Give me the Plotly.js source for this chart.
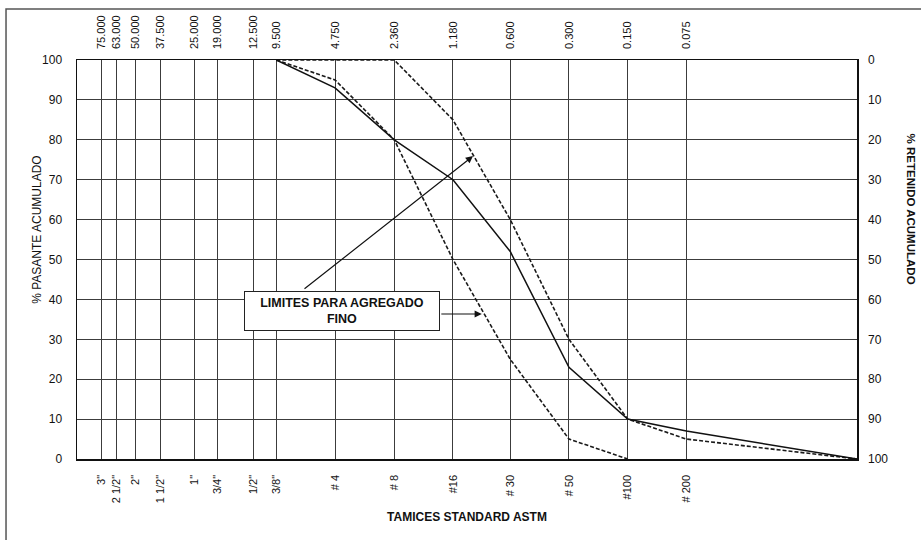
<!DOCTYPE html>
<html>
<head>
<meta charset="utf-8">
<script src="https://cdn.plot.ly/plotly-3.0.1.min.js"></script>
<style>html,body{margin:0;padding:0;background:#fff;}#chart{width:921px;height:540px;}</style>
</head>
<body>
<div id="chart"></div>
<script>
// Sieve openings (mm) and their labels
var sieveMm = [75, 63, 50, 37.5, 25, 19, 12.5, 9.5, 4.75, 2.36, 1.18, 0.6, 0.3, 0.15, 0.075];
var sieveLabelsTop = ["75.000", "63.000", "50.000", "37.500", "25.000", "19.000", "12.500", "9.500",
                      "4.750", "2.360", "1.180", "0.600", "0.300", "0.150", "0.075"];
var sieveLabelsBottom = ["3\"", "2 1/2\"", "2\"", "1 1/2\"", "1\"", "3/4\"", "1/2\"", "3/8\"",
                         "# 4", "# 8", "#16", "# 30", "# 50", "#100", "# 200"];

// Curves (size in mm, % passing)
var curveSizes = [9.5, 4.75, 2.36, 1.18, 0.6, 0.3, 0.15, 0.075, 0.01];
var gradationPassing = [100, 93, 80, 70, 52, 23, 10, 7, 0];
var upperSizes = [9.5, 4.75, 2.36, 1.18, 0.6, 0.3, 0.15, 0.075, 0.01];
var upperLimit = [100, 100, 100, 85, 60, 30, 10, 5, 0];
var lowerSizes = [9.5, 4.75, 2.36, 1.18, 0.6, 0.3, 0.15];
var lowerLimit = [100, 95, 80, 50, 25, 5, 0];

var yTicks = [0, 10, 20, 30, 40, 50, 60, 70, 80, 90, 100];

var FONT = "Liberation Sans, Arial, sans-serif";

// % retained = 100 - % passing (right axis)
var gradationRetained = gradationPassing.map(function (v) { return 100 - v; });

var traces = [
  {x: upperSizes, y: upperLimit, type: "scatter", mode: "lines", name: "Límite superior",
   line: {color: "#1a1a1a", width: 1.6, dash: "4px,2px"}, xaxis: "x", yaxis: "y"},
  {x: lowerSizes, y: lowerLimit, type: "scatter", mode: "lines", name: "Límite inferior",
   line: {color: "#1a1a1a", width: 1.6, dash: "4px,2px"}, xaxis: "x", yaxis: "y"},
  {x: curveSizes, y: gradationPassing, type: "scatter", mode: "lines", name: "Curva granulométrica",
   line: {color: "#111", width: 1.5}, xaxis: "x", yaxis: "y"},
  // same gradation on the mm (top) axis, invisible, so the top axis is drawn
  {x: curveSizes, y: gradationPassing, type: "scatter", mode: "lines", name: "mm",
   line: {color: "rgba(0,0,0,0)", width: 0}, xaxis: "x2", yaxis: "y", hoverinfo: "skip"},
  // same gradation as % retained on the right axis, invisible
  {x: curveSizes, y: gradationRetained, type: "scatter", mode: "lines", name: "% retenido",
   line: {color: "rgba(0,0,0,0)", width: 0}, xaxis: "x", yaxis: "y2", hoverinfo: "skip"}
];

var layout = {
  width: 921, height: 540,
  margin: {l: 77, r: 64, t: 60, b: 81, pad: 0},
  paper_bgcolor: "#fff", plot_bgcolor: "#fff",
  showlegend: false,
  font: {family: FONT, color: "#111", size: 11},
  xaxis: {
    type: "log", range: [2, -2], autorange: false,
    tickmode: "array", tickvals: sieveMm, ticktext: sieveLabelsBottom,
    tickangle: -90, tickfont: {size: 11, family: FONT},
    ticks: "", ticklabelstandoff: 10,
    showgrid: true, gridcolor: "#3c3c3c", gridwidth: 1,
    showline: true, mirror: true, linecolor: "#111", linewidth: 1.5,
    zeroline: false,
    title: {text: "<b>TAMICES STANDARD ASTM</b>", font: {size: 12, family: FONT}, standoff: 10}
  },
  xaxis2: {
    type: "log", range: [2, -2], autorange: false,
    overlaying: "x", side: "top", anchor: "y",
    tickmode: "array", tickvals: sieveMm, ticktext: sieveLabelsTop,
    tickangle: -90, tickfont: {size: 11, family: FONT},
    ticks: "", ticklabelstandoff: 10,
    showgrid: false, zeroline: false, showline: false
  },
  yaxis: {
    range: [0, 100], autorange: false,
    tickmode: "array", tickvals: yTicks,
    tickfont: {size: 12, family: FONT},
    ticks: "", ticklabelstandoff: 11,
    showgrid: true, gridcolor: "#3c3c3c", gridwidth: 1,
    showline: true, mirror: true, linecolor: "#111", linewidth: 1.5,
    zeroline: false
  },
  yaxis2: {
    range: [100, 0], autorange: false,
    overlaying: "y", side: "right", anchor: "x",
    tickmode: "array", tickvals: yTicks,
    tickfont: {size: 12, family: FONT},
    ticks: "", ticklabelstandoff: 10,
    showgrid: false, zeroline: false, showline: false
  },
  shapes: [
    {type: "path", xref: "paper", yref: "paper",
     path: "M -0.091 -0.22 L -0.091 1.128 L 1.09 1.128",
     line: {color: "#555", width: 1.5}}
  ],
  annotations: [
    {xref: "paper", yref: "paper", x: 0.5077, y: 0.7594, ax: -170, ay: 134,
     text: "", showarrow: true, arrowhead: 2, arrowsize: 1.2, arrowwidth: 1.2, arrowcolor: "#111", standoff: 0},
    {xref: "paper", yref: "paper", x: 0.519, y: 0.3634, ax: -42, ay: 0,
     text: "", showarrow: true, arrowhead: 2, arrowsize: 1.2, arrowwidth: 1.2, arrowcolor: "#111", standoff: 0},
    {xref: "paper", yref: "paper", x: 0.3397, y: 0.371, showarrow: false,
     text: "<b>LIMITES PARA AGREGADO<br>FINO</b>", align: "center",
     font: {size: 12.5, family: FONT, color: "#111"},
     bgcolor: "#fff", bordercolor: "#222", borderwidth: 1, borderpad: 3,
     width: 188, height: 32},
    {xref: "paper", yref: "paper", x: -0.063, y: 0.574, showarrow: false,
     text: "% PASANTE ACUMULADO", textangle: -90,
     font: {size: 12, family: FONT, color: "#111"}},
    {xref: "paper", yref: "paper", x: 1.08, y: 0.6266, showarrow: false,
     text: "<b>% RETENIDO ACUMULADO</b>", textangle: 90,
     font: {size: 11.5, family: FONT, color: "#111"}}
  ]
};

Plotly.newPlot("chart", traces, layout, {displayModeBar: false, staticPlot: true});
</script>
</body>
</html>
